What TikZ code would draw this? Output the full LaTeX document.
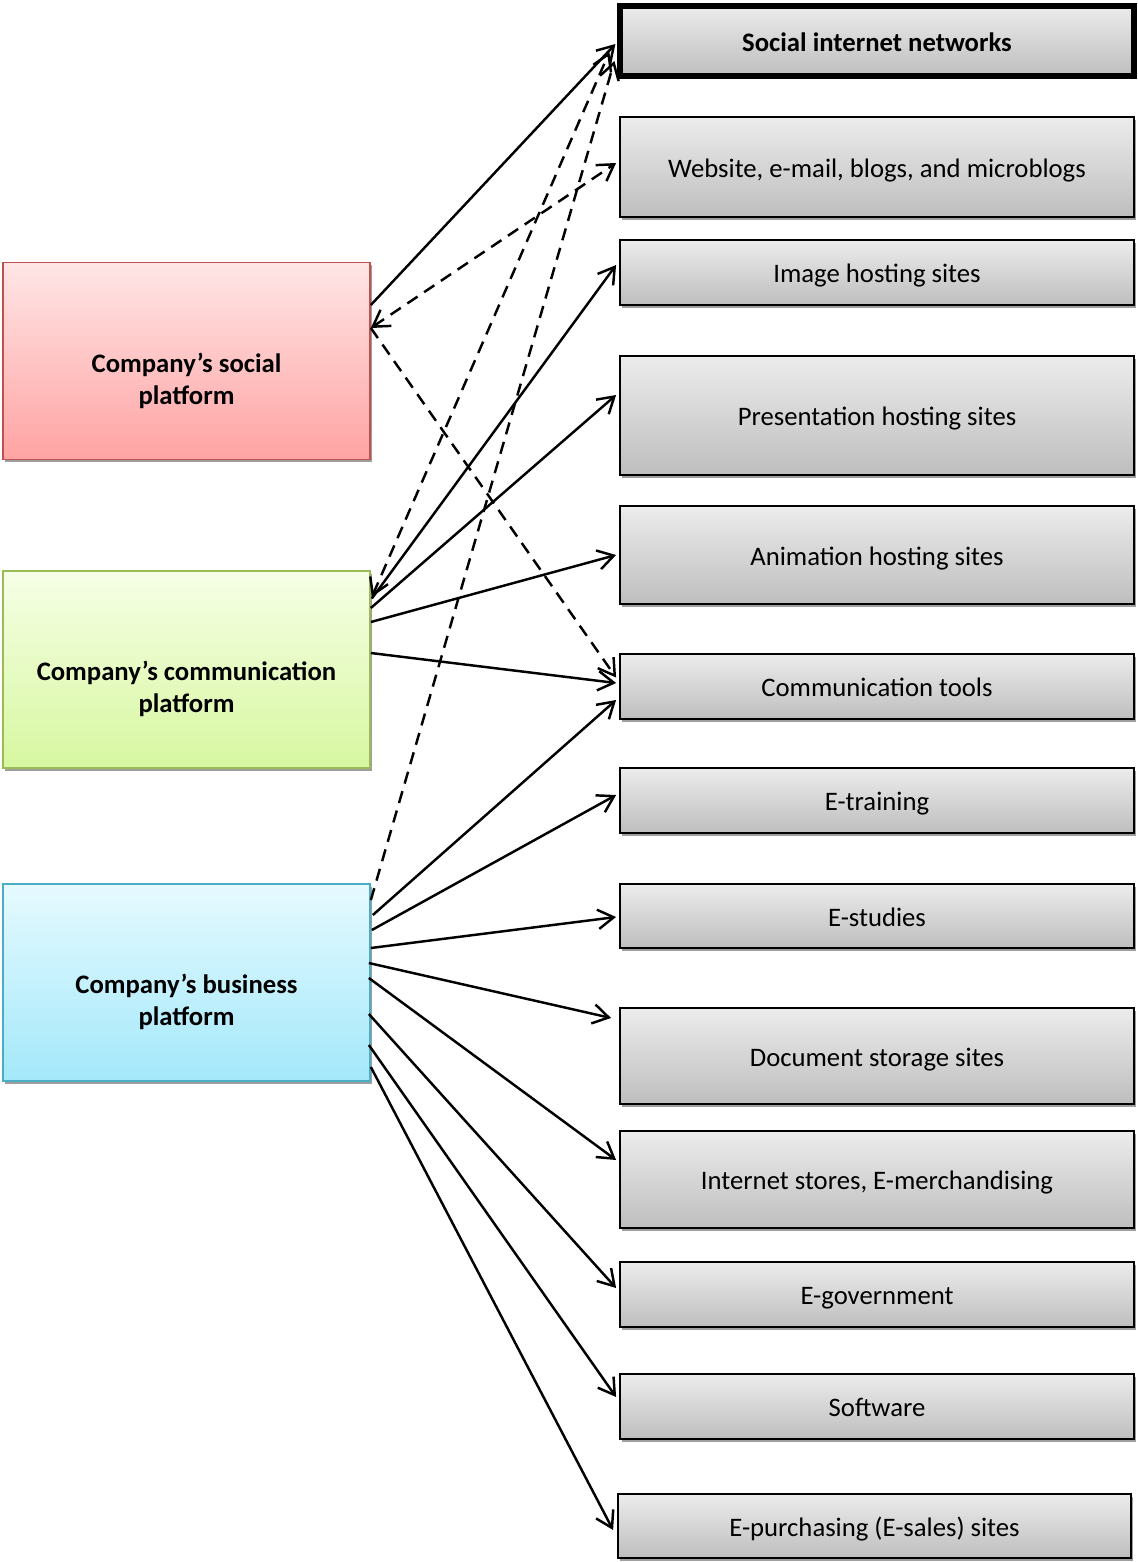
\documentclass[tikz,border=0pt]{standalone}
\usepackage{fontspec}
\setmainfont{Carlito}
\usetikzlibrary{arrows.meta,calc,shadows}

\definecolor{boxtop}{RGB}{236,236,236}
\definecolor{boxbot}{RGB}{190,190,190}
\definecolor{soctop}{RGB}{255,230,230}
\definecolor{socbot}{RGB}{255,163,163}
\definecolor{socline}{RGB}{192,80,77}
\definecolor{comtop}{RGB}{246,255,230}
\definecolor{combot}{RGB}{215,247,160}
\definecolor{comline}{RGB}{155,187,89}
\definecolor{bustop}{RGB}{230,250,255}
\definecolor{busbot}{RGB}{163,232,250}
\definecolor{busline}{RGB}{75,172,198}

\tikzset{
  boxshadow/.style={drop shadow={shadow xshift=1pt, shadow yshift=-1.6pt, fill=black!38, opacity=1}},
  target/.style={draw=black, line width=1.1pt, top color=boxtop, bottom color=boxbot,
    minimum width=10.28cm, inner sep=0pt, boxshadow, text height=11.4pt, text depth=0pt,
    font=\fontsize{15.2}{18}\selectfont},
  platform/.style={line width=1pt, minimum width=7.34cm, minimum height=3.94cm, boxshadow,
    align=center, text height=52.2pt, text depth=3pt,
    font=\fontsize{15.2}{18.1}\selectfont\bfseries},
  link/.style={line width=1.4pt, -{Straight Barb[length=9pt,width=11pt,line width=1.4pt]}},
  twolink/.style={link, {Straight Barb[length=9pt,width=11pt,line width=1.4pt]}-{Straight Barb[length=9pt,width=11pt,line width=1.4pt]}},
  dlink/.style={dash pattern=on 7pt off 4.5pt}
}

\begin{document}
\begin{tikzpicture}[x=0.02cm,y=-0.02cm]
  \useasboundingbox (0,0) rectangle (1137,1562);

  % Platforms
  \node[platform, draw=socline, top color=soctop, bottom color=socbot] (soc) at (186.5,361) {Company’s social\\platform};
  \node[platform, draw=comline, top color=comtop, bottom color=combot] (com) at (186.5,669.5) {Company’s communication\\platform};
  \node[platform, draw=busline, top color=bustop, bottom color=busbot] (bus) at (186.5,982.5) {Company’s business\\platform};

  % Services
  \node[target, line width=3pt, minimum height=1.4cm, font=\fontsize{15.2}{18}\selectfont\bfseries] (sn) at (877,41) {Social internet networks};
  \node[target, minimum height=2cm] (web) at (877,167) {Website, e-mail, blogs, and microblogs};
  \node[target, minimum height=1.3cm] (img) at (877,272.5) {Image hosting sites};
  \node[target, minimum height=2.38cm] (pres) at (877,415.5) {Presentation hosting sites};
  \node[target, minimum height=1.96cm] (anim) at (877,555) {Animation hosting sites};
  \node[target, minimum height=1.3cm] (tools) at (877,686.5) {Communication tools};
  \node[target, minimum height=1.3cm] (etrain) at (877,800.5) {E-training};
  \node[target, minimum height=1.28cm] (estud) at (877,916) {E-studies};
  \node[target, minimum height=1.92cm] (docs) at (877,1056) {Document storage sites};
  \node[target, minimum height=1.94cm] (stores) at (877,1179.5) {Internet stores, E-merchandising};
  \node[target, minimum height=1.3cm] (egov) at (877,1294.5) {E-government};
  \node[target, minimum height=1.3cm] (soft) at (877,1406.5) {Software};
  \node[target, minimum height=1.28cm, minimum width=10.26cm] (epurch) at (874.5,1526) {E-purchasing (E-sales) sites};

  % Social platform
  \draw[link] ($(soc.east)+(0,-56)$) -- ($(sn.west)+(-2,3)$);
  \draw[twolink, dlink] ($(soc.east)+(0,-33)$) -- ($(web.west)+(-3,-4)$);
  \draw[link, dlink] ($(soc.east)+(0,-33)$) -- ($(tools.west)+(-3,-9)$);

  % Communication platform
  \draw[twolink, dlink] ($(com.east)+(1,-72.5)$) -- ($(sn.west)+(-8,11)$);
  \draw[link] ($(com.east)+(1,-71)$) -- ($(img.west)+(-3,-7.5)$);
  \draw[link] ($(com.east)+(0,-61.5)$) -- ($(pres.west)+(-3,-20.5)$);
  \draw[link] ($(com.east)+(0,-47.5)$) -- ($(anim.west)+(-3,0)$);
  \draw[link] ($(com.east)+(0,-16.5)$) -- ($(tools.west)+(-3,-3.5)$);

  % Business platform
  \draw[link, dlink] ($(bus.east)+(0,-82.5)$) -- ($(sn.west)+(-3,20)$);
  \draw[link] ($(bus.east)+(2,-67.5)$) -- ($(tools.west)+(-3,13.5)$);
  \draw[link] ($(bus.east)+(1,-52.5)$) -- ($(etrain.west)+(-3,-5.5)$);
  \draw[link] ($(bus.east)+(0,-34.5)$) -- ($(estud.west)+(-3,1)$);
  \draw[link] ($(bus.east)+(-2,-19.5)$) -- ($(docs.west)+(-8,-38)$);
  \draw[link] ($(bus.east)+(-2,-4.5)$) -- ($(stores.west)+(-3,-19.5)$);
  \draw[link] ($(bus.east)+(-2,31.5)$) -- ($(egov.west)+(-3,-6.5)$);
  \draw[link] ($(bus.east)+(-2,62.5)$) -- ($(soft.west)+(-3,-9.5)$);
  \draw[link] ($(bus.east)+(0,84.5)$) -- ($(epurch.west)+(-4,4)$);
\end{tikzpicture}
\end{document}
